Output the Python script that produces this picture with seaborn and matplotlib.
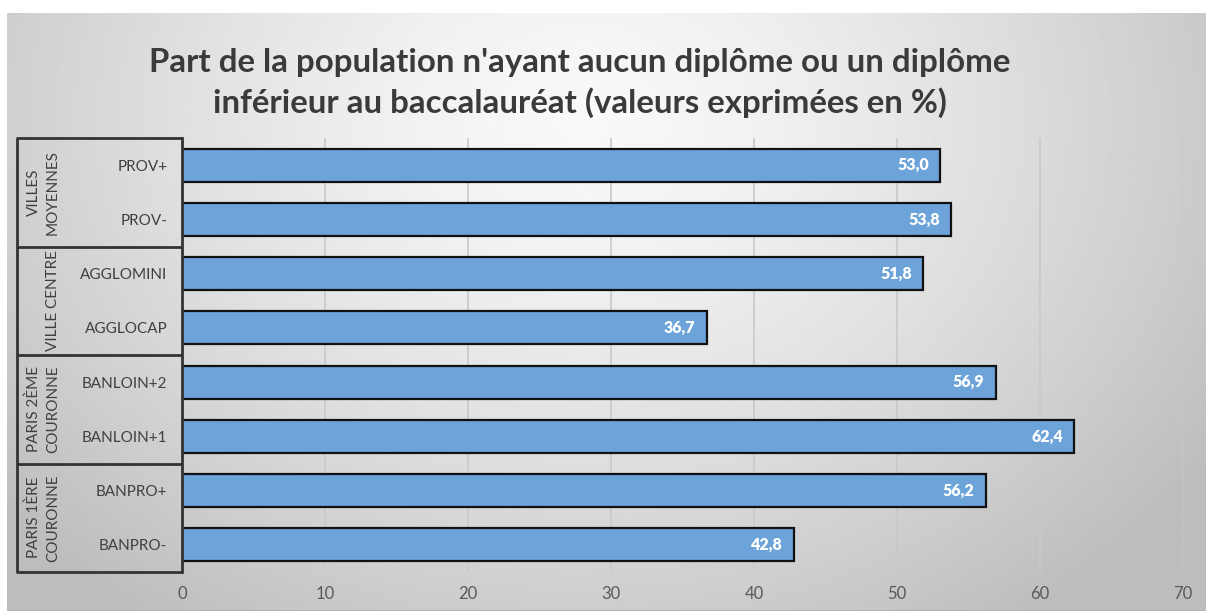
import numpy as np
import pandas as pd
import matplotlib
matplotlib.use("Agg")
import matplotlib.pyplot as plt
import seaborn as sns

# data
categories = ["PROV+", "PROV-", "AGGLOMINI", "AGGLOCAP",
              "BANLOIN+2", "BANLOIN+1", "BANPRO+", "BANPRO-"]
values = [53.0, 53.8, 51.8, 36.7, 56.9, 62.4, 56.2, 42.8]
groups = ["VILLES\nMOYENNES", "VILLE CENTRE", "PARIS 2ÈME\nCOURONNE", "PARIS 1ÈRE\nCOURONNE"]
group_sizes = [2, 2, 2, 2]
x_ticks = [0, 10, 20, 30, 40, 50, 60, 70]
title = ("Part de la population n'ayant aucun diplôme ou un diplôme\n"
         "inférieur au baccalauréat (valeurs exprimées en %)")

sns.set_theme(style="white")
plt.rcParams['font.family'] = ['Lato', 'DejaVu Sans']

W, H = 1206, 611
fig = plt.figure(figsize=(W / 100, H / 100), dpi=100)
fig.patch.set_facecolor("white")

# gradient background panel
bg = fig.add_axes([7 / W, 0, 1 - 7 / W, (H - 13) / H], zorder=-10)
yy, xx = np.mgrid[0:1:300j, 0:1:600j]
d = np.sqrt(((xx - 0.48) / 0.58) ** 2 + ((yy - 0.18) / 0.95) ** 2)
shade = np.clip(0.975 - 0.21 * d ** 1.4, 0.74, 1.0)
bg.imshow(shade, cmap="gray", vmin=0, vmax=1, aspect="auto",
          extent=[0, 1, 1, 0], interpolation="bilinear")
bg.axhline(1, color="#b0b0b0", lw=2)
bg.set_axis_off()

# main axes
left, right = 182, 1183
top, bottom = 138, 572
ax = fig.add_axes([left / W, (H - bottom) / H, (right - left) / W, (bottom - top) / H])
ax.patch.set_alpha(0)

df = pd.DataFrame({"cat": categories, "val": values})
sns.barplot(data=df, x="val", y="cat", orient="h", order=categories,
            color="#6ca3d9", saturation=1, edgecolor="#111111", linewidth=1.6,
            width=0.61, ax=ax, zorder=3)

ax.set_xlim(0, 70)
ax.set_ylim(len(categories) - 0.5, -0.5)
ax.set_xticks(x_ticks)
ax.set_xlabel("")
ax.set_ylabel("")
ax.grid(axis="x", color="#c9c9c9", lw=1.2, zorder=0)
ax.set_axisbelow(True)
for s in ["top", "right", "bottom"]:
    ax.spines[s].set_visible(False)
ax.spines["left"].set_color("#333333")
ax.spines["left"].set_linewidth(2)
ax.spines["left"].set_zorder(5)
ax.tick_params(axis="x", direction="in", length=8, width=1, color="#808080",
               labelsize=12, labelcolor="#595959", pad=10)
ax.tick_params(axis="y", length=0, pad=10.5, labelsize=11, labelcolor="#404040")

# value labels inside bars
for i, v in enumerate(values):
    ax.annotate(f"{v:.1f}".replace(".", ","), xy=(v, i), xytext=(-8, 0),
                textcoords="offset points", ha="right", va="center",
                color="white", fontsize=11.5, fontweight="heavy", zorder=6)

# multi-level category boxes
tr = ax.get_yaxis_transform()
box_x = (17 - left) / (right - left)
bounds = [-0.5]
for n in group_sizes:
    bounds.append(bounds[-1] + n)
for b in bounds:
    ax.plot([box_x, 0], [b, b], transform=tr, color="#333333", lw=2,
            clip_on=False, solid_capstyle="butt")
ax.plot([box_x, box_x], [bounds[0], bounds[-1]], transform=tr, color="#333333",
        lw=2, clip_on=False)
label_x = (60 - left) / (right - left)
for g, b0, b1 in zip(groups, bounds[:-1], bounds[1:]):
    ax.text(label_x, (b0 + b1) / 2, g, transform=tr, rotation=90,
            ha="right", va="center", multialignment="center",
            fontsize=11, color="#404040", linespacing=1.45)

fig.text(580 / W, 1 - 83 / H, title, ha="center", va="center",
         fontsize=23.8, fontweight="bold", color="#3a3a3a", linespacing=1.4)

fig.savefig("out.png", dpi=100)
